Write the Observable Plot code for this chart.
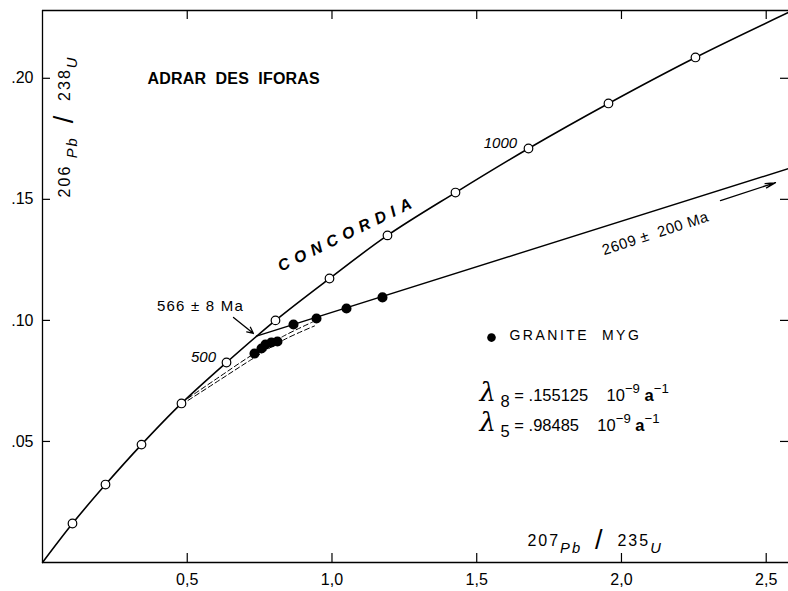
<!DOCTYPE html>
<html><head><meta charset="utf-8">
<script src="https://cdn.jsdelivr.net/npm/d3@7"></script>
<script src="https://cdn.jsdelivr.net/npm/@observablehq/plot@0.6"></script>
<style>
html,body{margin:0;padding:0;background:#fff;}
#chart svg{display:block;}
</style></head><body><div id="chart"></div>
<script>
// ---- data ----
const xTicks = [0.5, 1.0, 1.5, 2.0, 2.5];
const xTickLabels = ["0,5", "1,0", "1,5", "2,0", "2,5"];
const yTicks = [0.05, 0.10, 0.15, 0.20];
const yTickLabels = [".05", ".10", ".15", ".20"];

// concordia age marks (Ma) and their ratios
const concordiaAge = [100, 200, 300, 400, 500, 600, 700, 800, 900, 1000, 1100, 1200];
const concordiaX = [0.1036, 0.2176, 0.3420, 0.4801, 0.6356, 0.8048, 0.9914, 1.1917, 1.4266, 1.6788, 1.9551, 2.2556];
const concordiaY = [0.0161, 0.0322, 0.0487, 0.0657, 0.0826, 0.1000, 0.1173, 0.1351, 0.1528, 0.1710, 0.1896, 0.2086];
const concordiaEndsX = [0, 2.577];
const concordiaEndsY = [0, 0.2272];

// granite MYG zircons
const graniteX = [0.7323, 0.7565, 0.7703, 0.7910, 0.8117, 0.8670, 0.9465, 1.0501, 1.1744];
const graniteY = [0.0863, 0.0884, 0.0900, 0.0909, 0.0913, 0.0983, 0.1008, 0.1049, 0.1095];

// discordia (566 ± 8 Ma to 2609 ± 200 Ma)
const discordiaX = [0.739, 2.577];
const discordiaY = [0.0935, 0.1627];

// dashed lead-loss trajectories
const lossAX = [0.4801, 0.6149, 0.7185, 0.8325, 0.9326];
const lossAY = [0.0660, 0.0770, 0.0853, 0.0935, 0.0993];
const lossBX = [0.4801, 0.6149, 0.7185, 0.8325, 0.9396];
const lossBY = [0.0652, 0.0756, 0.0836, 0.0919, 0.0977];

// text
const titleText = "ADRAR  DES  IFORAS";
const concordiaText = "CONCORDIA";
const ageLabels = ["1000", "500"];
const lowerText = "566 ± 8 Ma";
const upperText = "2609 ±  200 Ma";
const legendText = "GRANITE  MYG";
const lambdaLines = ["{L:λ} {s:8} = .155125    10{p:−9} {b:a}{p:−1}", "{L:λ} {s:5} = .98485    10{p:−9} {b:a}{p:−1}"];
const yLabelText = "{u:206} {i:Pb}  {S:/}  {u:238}{i:U}";
const xLabelText = "{u:207}{i:Pb}  {S:/}  {u:235}{i:U}";

// ---- build tables ----
const xMax = 2.577, yMax = 0.228;
const concordiaPts = concordiaX.map((x, i) => ({x, y: concordiaY[i], age: concordiaAge[i]}));
const concordiaLine = [{x: concordiaEndsX[0], y: concordiaEndsY[0]}, ...concordiaPts, {x: concordiaEndsX[1], y: concordiaEndsY[1]}];
const granite = graniteX.map((x, i) => ({x, y: graniteY[i]}));
const discordia = discordiaX.map((x, i) => ({x, y: discordiaY[i]}));
const lossA = lossAX.map((x, i) => ({x, y: lossAY[i]}));
const lossB = lossBX.map((x, i) => ({x, y: lossBY[i]}));

const FONT = "Liberation Sans, Arial, Helvetica, sans-serif";

const chart = Plot.plot({
  width: 788, height: 591,
  marginLeft: 42, marginRight: 0, marginTop: 10, marginBottom: 29,
  x: {domain: [0, xMax]},
  y: {domain: [0, yMax]},
  style: {fontFamily: FONT, fontSize: "15px", background: "white", color: "black"},
  marks: [
    Plot.ruleX([0], {strokeWidth: 1.3}),
    Plot.ruleY([0], {strokeWidth: 1.3}),
    Plot.ruleY([yMax], {strokeWidth: 1.3}),
    Plot.tickX(xTicks, {x: d => d, insetTop: 543, strokeWidth: 1.2}),
    Plot.tickX(xTicks, {x: d => d, insetBottom: 543, strokeWidth: 1.2}),
    Plot.tickY(yTicks, {y: d => d, insetRight: 738, strokeWidth: 1.2}),
    Plot.tickY(yTicks, {y: d => d, insetLeft: 738, strokeWidth: 1.2}),
    Plot.axisX(xTicks, {tickSize: 0, tickPadding: 11, fontSize: 16, label: null,
      tickFormat: d => xTickLabels[xTicks.indexOf(d)]}),
    Plot.axisY(yTicks, {tickSize: 0, tickPadding: 9, fontSize: 16, label: null,
      tickFormat: d => yTickLabels[yTicks.indexOf(d)]}),

    Plot.line(lossA, {x: "x", y: "y", curve: "catmull-rom", strokeWidth: 1, strokeDasharray: "5,3"}),
    Plot.line(lossB, {x: "x", y: "y", curve: "catmull-rom", strokeWidth: 1, strokeDasharray: "5,3"}),
    Plot.line(discordia, {x: "x", y: "y", strokeWidth: 1.4}),
    Plot.line(concordiaLine, {x: "x", y: "y", curve: "catmull-rom", strokeWidth: 1.6}),
    Plot.dot(concordiaPts, {x: "x", y: "y", r: 4.3, fill: "white", stroke: "black", strokeWidth: 1.2}),
    Plot.dot(granite, {x: "x", y: "y", r: 4.3, fill: "black", stroke: "black"}),

    Plot.arrow([0], {x1: 0.6598, y1: 0.1012, x2: 0.7288, y2: 0.0946, strokeWidth: 1.3, headLength: 8, headAngle: 50}),
    Plot.arrow([0], {x1: 2.342, y1: 0.1495, x2: 2.532, y2: 0.1569, strokeWidth: 1.3, headLength: 12, headAngle: 25}),

    Plot.text([titleText], {x: 0.3627, y: 0.1999, text: d => d, textAnchor: "start", fontWeight: "bold", fontSize: 16}),
    Plot.text([concordiaText], {x: 1.0535, y: 0.1358, text: d => d, rotate: -26, fontWeight: "bold", fontStyle: "italic", fontSize: 16}),
    Plot.text([ageLabels[0]], {x: 1.582, y: 0.1731, text: d => d, fontStyle: "italic", fontSize: 15}),
    Plot.text([ageLabels[1]], {x: 0.5561, y: 0.0847, text: d => d, fontStyle: "italic", fontSize: 15}),
    Plot.text([lowerText], {x: 0.5458, y: 0.1060, text: d => d, fontSize: 15}),
    Plot.text([upperText], {x: 2.117, y: 0.1359, text: d => d, rotate: -18, fontSize: 15}),
    Plot.dot([0], {x: 1.551, y: 0.0929, r: 4.3, fill: "black"}),
    Plot.text([legendText], {x: 1.613, y: 0.0938, text: d => d, textAnchor: "start", fontSize: 14}),
    Plot.text(lambdaLines, {x: 1.5095, y: (d, i) => [0.0690, 0.0566][i], text: d => d, textAnchor: "start", fontSize: 16.5}),
    Plot.text([yLabelText], {x: 0.0864, y: 0.1508, text: d => d, rotate: -90, textAnchor: "start", fontSize: 16}),
    Plot.text([xLabelText], {x: 1.675, y: 0.0075, text: d => d, textAnchor: "start", fontSize: 16})
  ]
});

// ---- rich text (super/subscripts) ----
const STY = {
  n: {},
  L: {family: "DejaVu Serif, serif", style: "italic", size: "26px"},
  s: {shift: 6},
  p: {shift: -8, size: "80%"},
  b: {weight: "bold"},
  u: {shift: -3},
  i: {shift: 4, style: "italic", size: "92%"},
  S: {size: "170%", shift: 0}
};
function richify(textEl) {
  const markup = textEl.textContent;
  const segs = [...markup.matchAll(/\{(\w):([^}]*)\}|([^{]+)/g)];
  while (textEl.firstChild) textEl.removeChild(textEl.firstChild);
  textEl.style.whiteSpace = "pre";
  let shift = 0;
  for (const m of segs) {
    const key = m[1] || "n";
    const content = m[1] ? m[2] : m[3];
    const s = STY[key];
    const t = document.createElementNS("http://www.w3.org/2000/svg", "tspan");
    const target = s.shift || 0;
    if (target - shift !== 0) t.setAttribute("dy", target - shift);
    shift = target;
    if (s.size) t.setAttribute("font-size", s.size);
    if (s.family) t.setAttribute("font-family", s.family);
    if (s.style) t.setAttribute("font-style", s.style);
    if (s.weight) t.setAttribute("font-weight", s.weight);
    t.textContent = content;
    textEl.appendChild(t);
  }
}
const spacing = new Map([
  [titleText, "0.2px"], [concordiaText, "6px"], [legendText, "2.5px"], [upperText, "0.5px"],
  [lowerText, "1.2px"], [yLabelText, "2px"], [xLabelText, "2px"]
]);
chart.querySelectorAll("text").forEach(t => {
  const s = t.textContent;
  if (spacing.has(s)) { t.style.letterSpacing = spacing.get(s); t.style.whiteSpace = "pre"; }
  if (s.includes("{")) richify(t);
});
document.getElementById("chart").appendChild(chart);
</script>
</body></html>
